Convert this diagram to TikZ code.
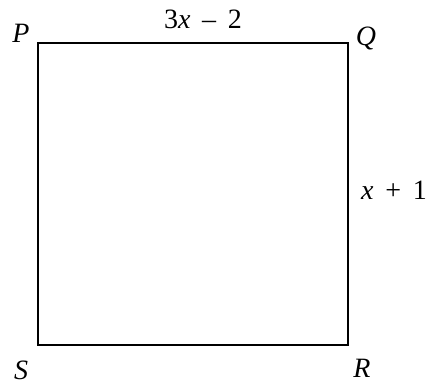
\documentclass[tikz,border=0pt]{standalone}
\usepackage{fontspec}
\setmainfont{Liberation Serif}
\begin{document}
\begin{tikzpicture}[x=1pt,y=-1pt,
  lbl/.style={inner sep=0pt,font=\fontsize{28}{32}\selectfont},
  side/.style={draw=black,line width=1.8pt}]
\useasboundingbox (0,0) rectangle (431,384);
\coordinate (p) at (38,43);
\coordinate (q) at (348,43);
\coordinate (r) at (348,345);
\coordinate (s) at (38,345);
\draw[side] (p) -- (q) -- (r) -- (s) -- cycle;
\node[lbl] (lp) at (21,33) {\textit{P}};
\node[lbl] (lq) at (366,38) {\textit{Q}};
\node[lbl] (ls) at (21,370) {\textit{S}};
\node[lbl] (lr) at (362,368) {\textit{R}};
\node[lbl] (top) at (203,19) {3\textit{x} \,–\, 2};
\node[lbl] (right) at (394,190) {\textit{x} \,+\, 1};
\end{tikzpicture}
\end{document}
